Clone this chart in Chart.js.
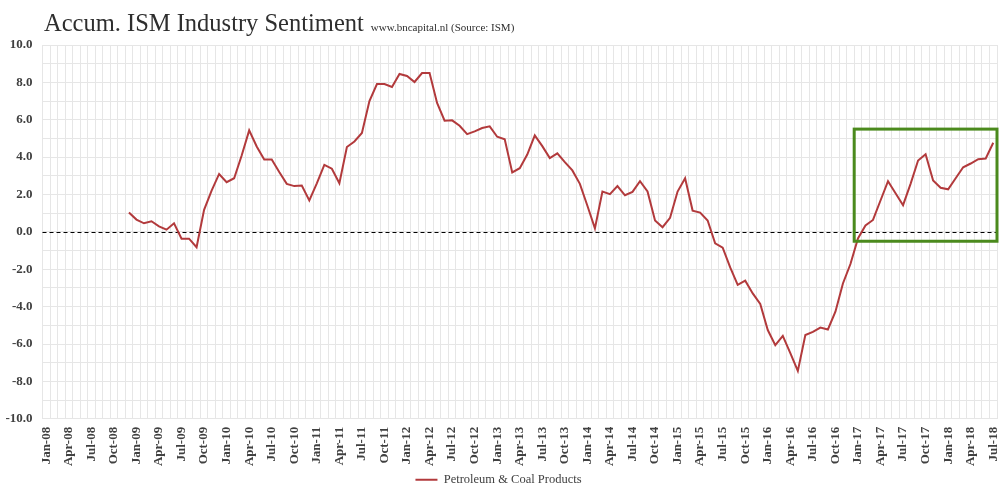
<!DOCTYPE html>
<html>
<head>
<meta charset="utf-8">
<script src="https://cdn.jsdelivr.net/npm/chart.js@4.4.0/dist/chart.umd.min.js"></script>
<style>
  html, body { margin: 0; padding: 0; background: #ffffff; }
  #wrap { position: relative; width: 1007px; height: 490px; }
</style>
</head>
<body>
<div id="wrap"><canvas id="c" width="1007" height="490"></canvas></div>
<script>
// ---- categories ----
const MONTH_NAMES = ['Jan','Feb','Mar','Apr','May','Jun','Jul','Aug','Sep','Oct','Nov','Dec'];
const YEARS = ['08','09','10','11','12','13','14','15','16','17','18'];
const LAST_YEAR_MONTHS = 7; // data ends Jul-18

// ---- series values (Petroleum & Coal Products), per year ----
const v2008 = [null,null,null,null,null,null,null,null,null,null,null,1.04];
const v2009 = [0.66,0.46,0.57,0.30,0.12,0.46,-0.36,-0.36,-0.82,1.18,2.21,3.10];
const v2010 = [2.66,2.87,4.09,5.43,4.57,3.88,3.88,3.20,2.57,2.45,2.48,1.68];
const v2011 = [2.60,3.59,3.38,2.60,4.54,4.84,5.29,7.00,7.91,7.91,7.75,8.45];
const v2012 = [8.34,8.02,8.50,8.50,6.90,5.95,5.97,5.68,5.23,5.38,5.56,5.65];
const v2013 = [5.09,4.95,3.18,3.41,4.14,5.16,4.59,3.95,4.20,3.73,3.29,2.57];
const v2014 = [1.40,0.19,2.16,2.02,2.45,1.96,2.14,2.71,2.16,0.61,0.25,0.75];
const v2015 = [2.16,2.87,1.14,1.03,0.61,-0.61,-0.84,-1.90,-2.83,-2.61,-3.29,-3.86];
const v2016 = [-5.25,-6.06,-5.56,-6.49,-7.44,-5.52,-5.35,-5.12,-5.22,-4.27,-2.76,-1.72];
const v2017 = [-0.35,0.34,0.64,1.68,2.71,2.07,1.43,2.57,3.82,4.16,2.75,2.36];
const v2018 = [2.28,2.87,3.46,3.66,3.89,3.93,4.77];

// ---- y tick range ----
const Y_MIN = -10, Y_MAX = 10, Y_STEP = 1, Y_LABEL_EVERY = 2;

// ---- highlight box (in data terms) ----
const BOX_FROM_LABEL = 'Jan-17';
const BOX_Y_TOP = 5.5, BOX_Y_BOTTOM = -0.5;

const labels = [];
YEARS.forEach((y, yi) => {
  const n = (yi === YEARS.length - 1) ? LAST_YEAR_MONTHS : 12;
  for (let m = 0; m < n; m++) labels.push(MONTH_NAMES[m] + '-' + y);
});
const values = [].concat(v2008, v2009, v2010, v2011, v2012, v2013, v2014, v2015, v2016, v2017, v2018);

const SERIF = "'Liberation Serif', 'DejaVu Serif', serif";

const titlePlugin = {
  id: 'titleText',
  afterDraw(chart) {
    const ctx = chart.ctx;
    ctx.save();
    ctx.textBaseline = 'alphabetic';
    ctx.textAlign = 'left';
    ctx.fillStyle = '#2e2e2e';
    ctx.font = "24.5px " + SERIF;
    const t1 = 'Accum. ISM Industry Sentiment';
    ctx.fillText(t1, 44, 31);
    const w = ctx.measureText(t1).width;
    ctx.font = "11px " + SERIF;
    ctx.fillText('www.bncapital.nl (Source: ISM)', 44 + w + 7, 31);
    ctx.restore();
  }
};

const refPlugin = {
  id: 'refLines',
  beforeDatasetsDraw(chart) {
    const {ctx, chartArea, scales} = chart;
    const y0 = Math.round(scales.y.getPixelForValue(0)) + 0.5;
    ctx.save();
    ctx.strokeStyle = '#000000';
    ctx.lineWidth = 1;
    ctx.setLineDash([4, 3]);
    ctx.beginPath();
    ctx.moveTo(chartArea.left, y0);
    ctx.lineTo(chartArea.right, y0);
    ctx.stroke();
    ctx.restore();
  },
  afterDatasetsDraw(chart) {
    const {ctx, chartArea, scales} = chart;
    const idx = labels.indexOf(BOX_FROM_LABEL);
    const half = (scales.x.getPixelForValue(1) - scales.x.getPixelForValue(0)) / 2;
    const x1 = scales.x.getPixelForValue(idx) - half;
    const x2 = chartArea.right;
    const yt = scales.y.getPixelForValue(BOX_Y_TOP);
    const yb = scales.y.getPixelForValue(BOX_Y_BOTTOM);
    ctx.save();
    ctx.strokeStyle = '#4b8a1d';
    ctx.lineWidth = 3;
    ctx.strokeRect(x1, yt, x2 - x1, yb - yt);
    ctx.restore();
  }
};

new Chart(document.getElementById('c'), {
  type: 'line',
  data: {
    labels: labels,
    datasets: [{
      label: 'Petroleum & Coal Products',
      data: values,
      borderColor: '#b23a3c',
      backgroundColor: '#b23a3c',
      borderWidth: 2,
      pointRadius: 0,
      tension: 0,
      spanGaps: false
    }]
  },
  options: {
    responsive: false,
    animation: false,
    layout: { padding: { top: 45, right: 10, left: 0, bottom: -6 } },
    plugins: {
      legend: {
        position: 'bottom',
        labels: {
          usePointStyle: true,
          pointStyle: 'line',
          pointStyleWidth: 22,
          padding: 1,
          color: '#404040',
          font: { family: SERIF, size: 12.5, lineHeight: 1 }
        }
      },
      tooltip: { enabled: false }
    },
    scales: {
      x: {
        type: 'category',
        offset: true,
        grid: { offset: true, color: '#e6e6e6', lineWidth: 1, drawTicks: false },
        border: { display: false },
        afterFit(s) { s.height = 53.7; s.paddingLeft = 0; s.paddingRight = 0; },
        ticks: {
          autoSkip: false,
          maxRotation: 90,
          minRotation: 90,
          padding: 8,
          color: '#404040',
          font: { family: SERIF, size: 13, weight: 'bold' },
          callback(v, i) { return i % 3 === 0 ? labels[i] : ''; }
        }
      },
      y: {
        min: Y_MIN,
        max: Y_MAX,
        grid: { color: '#e6e6e6', lineWidth: 1, drawTicks: false },
        border: { display: false },
        afterFit(s) { s.width = 42.5; },
        ticks: {
          stepSize: Y_STEP,
          padding: 10,
          color: '#404040',
          font: { family: SERIF, size: 13, weight: 'bold' },
          callback(v) { return (Math.round(v) % Y_LABEL_EVERY === 0) ? Number(v).toFixed(1) : ''; }
        }
      }
    }
  },
  plugins: [titlePlugin, refPlugin]
});
</script>
</body>
</html>
